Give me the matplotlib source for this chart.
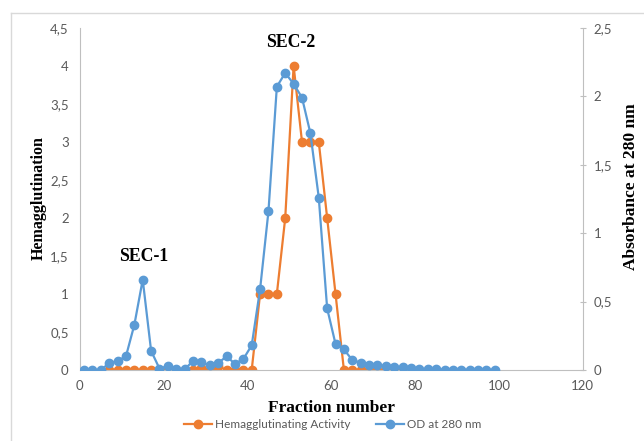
import matplotlib
matplotlib.use("Agg")
import matplotlib.pyplot as plt
from matplotlib.ticker import FuncFormatter, MultipleLocator
from matplotlib.lines import Line2D

# fractions (odd numbers), OD at 280 nm on the right axis
od_fraction = list(range(1, 100, 2))
od_280 = [0, 0, 0, 0.05, 0.066, 0.10, 0.33, 0.66, 0.14, 0.01,
          0.03, 0.005, 0.005, 0.066, 0.055, 0.035, 0.05, 0.10, 0.045, 0.08,
          0.18, 0.59, 1.16, 2.07, 2.17, 2.09, 1.99, 1.73, 1.26, 0.45,
          0.19, 0.15, 0.073, 0.053, 0.035, 0.035, 0.03, 0.025, 0.02, 0.012,
          0.006, 0.005, 0.004, 0.003, 0.002, 0.002, 0.001, 0.001, 0.001, 0.001]

# hemagglutinating activity on the left axis
ha_fraction = list(range(7, 80, 2))
ha_activity = [0, 0, 0, 0, 0, 0, 0, 0, 0, 0,
               0, 0.03, 0, 0.05, 0, 0, 0, 0, 1, 1,
               1, 2, 4, 3, 3, 3, 2, 1, 0, 0,
               0, 0, 0, 0, 0, 0, 0]

orange = "#ED7D31"
blue = "#5B9BD5"
grey = "#595959"
spine = "#BFBFBF"
tick_font = "Lato"
label_font = "Liberation Serif"

def comma(v, pos):
    s = ("%g" % v)
    return s.replace(".", ",")

fig = plt.figure(figsize=(6.44, 4.41), dpi=100)
ax = fig.add_axes([0.124, 0.161, 0.781, 0.776])
ax2 = ax.twinx()

ax.plot(ha_fraction, ha_activity, color=orange, marker="o", markersize=6,
        linewidth=1.6, label="Hemagglutinating Activity")
ax2.plot(od_fraction, od_280, color=blue, marker="o", markersize=6,
         linewidth=1.6, label="OD at 280 nm")

ax.set_xlim(0, 120)
ax.set_ylim(0, 4.5)
ax2.set_ylim(0, 2.5)
ax.xaxis.set_major_locator(MultipleLocator(20))
ax.yaxis.set_major_locator(MultipleLocator(0.5))
ax2.yaxis.set_major_locator(MultipleLocator(0.5))
ax.yaxis.set_major_formatter(FuncFormatter(comma))
ax2.yaxis.set_major_formatter(FuncFormatter(comma))

for a in (ax, ax2):
    for s in a.spines.values():
        s.set_visible(False)
    a.tick_params(labelsize=9.5, colors=grey, length=0, pad=8)
    a.patch.set_visible(False)
ax.spines["left"].set_visible(True)
ax.spines["left"].set_color(spine)
ax.spines["bottom"].set_visible(True)
ax.spines["bottom"].set_color(spine)
ax2.spines["right"].set_visible(True)
ax2.spines["right"].set_color(spine)
ax2.tick_params(axis="y", length=4, color=spine, direction="inout", pad=6)
ax.tick_params(axis="x", pad=7)

for t in ax.get_xticklabels() + ax.get_yticklabels() + ax2.get_yticklabels():
    t.set_fontfamily(tick_font)

ax.set_xlabel("Fraction number", fontfamily=label_font, fontweight="bold",
              fontsize=12.5, color="black", labelpad=6)
ax.set_ylabel("Hemagglutination", fontfamily=label_font, fontweight="bold",
              fontsize=11.5, color="black", va="center")
ax2.set_ylabel("Absorbance at 280 nm", fontfamily=label_font, fontweight="bold",
               fontsize=12.5, color="black", va="center")
ax.yaxis.set_label_coords(-0.0815, 0.503)
ax2.yaxis.set_label_coords(1.095, 0.535)

ax.text(50.4, 4.3, "SEC-2", fontfamily=label_font, fontweight="bold",
        fontsize=12.8, ha="center", va="center")
ax.text(15.3, 1.49, "SEC-1", fontfamily=label_font, fontweight="bold",
        fontsize=12.8, ha="center", va="center")

handles = [Line2D([], [], color=orange, marker="o", markersize=6, linewidth=1.6),
           Line2D([], [], color=blue, marker="o", markersize=6, linewidth=1.6)]
leg = fig.legend(handles, ["Hemagglutinating Activity", "OD at 280 nm"],
                 loc="center", bbox_to_anchor=(0.517, 1 - 425 / 441), ncol=2,
                 frameon=False, handlelength=2.3, columnspacing=2.2,
                 handletextpad=0.3, prop={"family": tick_font, "size": 8.5})
for t in leg.get_texts():
    t.set_color(grey)

# light chart border (left and top edges visible)
fig.add_artist(Line2D([11 / 644, 11 / 644], [0, 1 - 13 / 441], color="#D9D9D9",
                      linewidth=1, transform=fig.transFigure))
fig.add_artist(Line2D([11 / 644, 1], [1 - 13 / 441, 1 - 13 / 441], color="#D9D9D9",
                      linewidth=1, transform=fig.transFigure))

fig.savefig("out.png", dpi=100)
